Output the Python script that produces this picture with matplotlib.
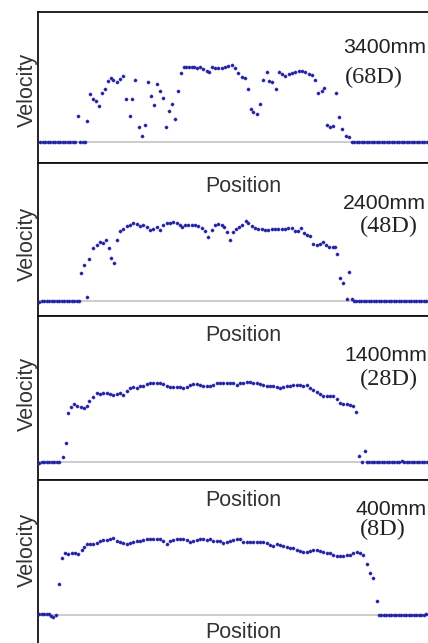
import numpy as np
import matplotlib.pyplot as plt

# velocity profiles
# position = px along the section, velocity = height above the zero line (arbitrary units)
distances = ['3400mm', '2400mm', '1400mm', '400mm']
diameters = ['(68D)', '(48D)', '(28D)', '(8D)']

pos_68d = [40, 42.5, 45, 47.5, 50, 52.5, 55, 57.5, 60, 62.5, 65, 67.5, 70, 72.5, 75,
           78, 80, 82.5, 85, 87, 90, 92.7, 95.7, 99, 102.3, 105.3, 108, 110.7, 113.3,
           116.7, 120, 123.3, 126.3, 129.7, 132.3, 135.3, 138.7, 141.7, 144.7, 147.7,
           150.7, 153.7, 156.7, 159.7, 162.7, 166.3, 168.7, 172, 175, 178, 181,
           183.7, 186.3, 189, 191.7, 194.3, 197, 200, 203.3, 206.7, 209, 211.7, 215,
           218.3, 221.7, 225, 228.3, 231.7, 235, 238.3, 241.7, 244.7, 248.3, 250.7,
           253.3, 256.7, 260, 263.3, 266.7, 269.3, 272, 275.7, 278.7, 282, 285.3,
           288.7, 292, 295.3, 298.7, 302, 305.3, 308.7, 311.7, 315, 318.3, 321.7,
           324.3, 327, 330, 333.3, 336.3, 339.3, 342.3, 345.7, 349,
           352, 354.5, 357, 359.5, 362, 364.5, 367, 369.5, 372, 374.5, 377, 379.5,
           382, 384.5, 387, 389.5, 392, 394.5, 397, 399.5, 402, 404.5, 407, 409.5,
           412, 414.5, 417, 419.5, 422, 424.5, 427]
vel_68d = [0, 0, 0, 0, 0, 0, 0, 0, 0, 0, 0, 0, 0, 0, 0,
           25.7, 0, 0, 0, 20.7, 48.3, 43.3, 41.3, 36, 49.3, 53.3, 61.3, 63.7, 61.7,
           59.7, 63, 66.3, 43.3, 25.7, 43.3, 61.7, 14.7, 6.3, 16.7, 60.3,
           46, 37, 58.3, 51.3, 44, 14.7, 31, 38, 22.7, 51.3, 68.7,
           75.3, 75.3, 75.3, 75.3, 75, 74.3, 74.7, 73, 71, 70.5, 75.3, 73.7,
           73.7, 74.3, 74.7, 76, 76.7, 74.3, 68.7, 65.3, 63.7, 53.3, 32.7,
           30.3, 27.7, 38, 61.7, 69.7, 61, 59.7, 53.3, 70, 68, 66.3,
           68, 68.7, 69.7, 70.7, 71.3, 70, 68.3, 66.7, 62, 49, 51,
           53.7, 16.7, 15.3, 16.3, 49, 24.7, 12.7, 6, 5.3,
           0, 0, 0, 0, 0, 0, 0, 0, 0, 0, 0, 0,
           0, 0, 0, 0, 0, 0, 0, 0, 0, 0, 0, 0,
           0, 0, 0, 0, 0, 0, 0]

pos_48d = [39, 41.5, 44, 46.5, 49, 51.5, 54, 56.5, 59, 61.5, 64, 66.5, 69, 71.5, 74, 76.5, 79,
           80.7, 84, 86.7, 89.3, 93.3, 96.7, 100, 103.3, 106, 108.7, 111.3, 114.3, 117.3,
           120, 123.3, 126.7, 130, 133.3, 136.7, 140, 143.3, 146.7, 150, 153.3, 156.7,
           160, 163.3, 166.7, 170, 173.3, 176.7, 180, 182.3, 185, 188.3, 191.7, 195,
           198.3, 201.7, 205, 208.3, 211.7, 215, 218.3, 221.7, 224, 226.7, 230, 232.7,
           235.7, 239, 242.3, 245.7, 248.3, 251.7, 255, 258.3, 261.7, 265, 268.3, 271.7,
           275, 278.3, 281.7, 285, 288.3, 291.7, 295, 298.3, 301, 304, 306.7, 310,
           313.3, 316.7, 320, 322.7, 326, 329.3, 332.7, 334.7, 337.3, 340, 343.3,
           346.7, 349.3, 352,
           354, 356.5, 359, 361.5, 364, 366.5, 369, 371.5, 374, 376.5, 379, 381.5,
           384, 386.5, 389, 391.5, 394, 396.5, 399, 401.5, 404, 406.5, 409, 411.5,
           414, 416.5, 419, 421.5, 424, 426.5]
vel_48d = [-1, 0, 0, 0, 0, 0, 0, 0, 0, 0, 0, 0, 0, 0, 0, 0, 0,
           28, 36, 3.7, 41.3, 53, 55.3, 59, 58, 60.3, 52.3, 42.7, 38, 60.7,
           69.3, 71.3, 74.3, 76, 77.3, 76.3, 75, 76, 73.7, 70.3, 71.3, 74,
           70.7, 76, 77.3, 78, 79, 77.3, 75.7, 74, 76, 76, 76, 76,
           74.7, 73, 69.7, 64, 70.7, 76, 76.3, 76, 74, 69, 60.7, 68.7,
           71.3, 74, 76, 79.7, 77.3, 74.7, 72.7, 71.3, 71.3, 71, 71, 71.7,
           71.7, 72, 71.3, 72, 72.7, 72.7, 70, 69.3, 72.3, 68, 65.3, 64.3,
           56.3, 56, 56.7, 58.3, 55.7, 54, 53.3, 53.3, 47, 22.7, 17.3,
           2, 28.7, 1.3,
           0, 0, 0, 0, 0, 0, 0, 0, 0, 0, 0, 0,
           0, 0, 0, 0, 0, 0, 0, 0, 0, 0, 0, 0,
           0, 0, 0, 0, 0, 0]

pos_28d = [39, 41.5, 44, 46.5, 49, 51.5, 54, 56.5, 59,
           62.7, 65.7, 68.3, 71, 74, 77.3, 80.7, 84, 86.7, 89.3, 93.3, 96.7, 100,
           103.3, 106.7, 110, 113.3, 116.7, 120, 123.3, 126.7, 130, 133.3, 136.7, 140,
           143.3, 146.7, 150, 153.3, 156.7, 160, 163.3, 166.7, 170, 173.3, 176.7, 180,
           183.3, 186.7, 190, 193.3, 196.7, 200, 203.3, 206.7, 210, 213.3, 216.7, 220,
           223.3, 226.7, 230, 233.3, 236.7, 240, 243.3, 246.7, 250, 253.3, 256.7, 260,
           263.3, 266.7, 270, 273.3, 276.7, 280, 283.3, 286.7, 290, 293.3, 296.7, 300,
           303.3, 306.7, 310, 313.3, 316.7, 320, 323.3, 326.7, 330, 333.3, 336.7, 340,
           343.3, 346.7, 350, 352.7, 355.7, 358.7, 361.7, 364.7,
           367, 369.5, 372, 374.5, 377, 379.5, 382, 384.5, 387, 389.5, 392, 394.5,
           397, 399.5, 402, 404.5, 407, 409.5, 412, 414.5, 417, 419.5, 422, 424.5, 427]
vel_28d = [-1.3, -0.3, 0, 0, 0, 0, 0, 0, 0,
           5.3, 18.7, 49.3, 55.3, 57.7, 56.3, 55.3, 53.7, 56, 61, 65.3, 68.7, 68.3,
           68.7, 68.7, 68.3, 67, 68.3, 69.3, 67, 71, 73.7, 75, 74.3, 75.7,
           76.3, 78, 79, 79.3, 79.3, 79, 78, 76.3, 75.3, 75.3, 75.3, 75,
           74.3, 75.3, 77, 78, 78, 77, 76, 75.7, 76, 77, 78.7, 79,
           79, 79, 78.7, 79, 77.3, 78.7, 79.3, 80.3, 79.7, 79, 78.7, 78,
           76.7, 76, 76.3, 75.7, 74.7, 74, 74.7, 75.7, 76.3, 77, 77.3, 76.7,
           76.3, 77.3, 73.7, 71.7, 69.7, 68.3, 66, 66, 66, 65.7, 63.3, 59.3,
           57.7, 57.7, 57.3, 56.3, 50.3, 5.7, -0.3, 11,
           0, 0, 0, 0, 0, 0, 0, 0, 0, 0, 0, 0,
           0, 0, 0.7, 0, 0, 0, 0, 0, 0, 0, 0, 0, 0]

pos_8d = [39, 41.5, 44, 46.5, 49, 51, 53.3, 56,
          59.3, 62.3, 65.3, 68.3, 71.7, 75, 78.3, 81.7, 84, 86.7, 90, 93.3, 96.7, 100,
          103.3, 106.7, 110, 113.3, 116.7, 120, 123.3, 126.7, 130, 133.3, 136.7, 140,
          143.3, 146.7, 150, 153.3, 156.7, 160, 163.3, 166.7, 170, 173.3, 176.7, 180,
          183.3, 186.7, 190, 193.3, 196.7, 200, 203.3, 206.7, 210, 213.3, 216.7, 220,
          223.3, 226.7, 230, 233.3, 236.7, 240, 243.3, 246.7, 250, 253.3, 256.7, 260,
          263.3, 266.7, 270, 273.3, 276.7, 280, 283.3, 286.7, 290, 293.3, 296.7, 300,
          303.3, 306.7, 310, 313.3, 316.7, 320, 323.3, 326.7, 330, 333.3, 336.7, 340,
          343.3, 346.7, 350, 353.3, 356.7, 360, 363.3, 367.3, 370, 373.3, 376.7,
          379, 381.5, 384, 386.5, 389, 391.5, 394, 396.5, 399, 401.5, 404, 406.5,
          409, 411.5, 414, 416.5, 419, 421.5, 424, 426.5]
vel_8d = [0.7, 0.7, 0.7, 0.7, 0.3, -1.5, -2.7, -0.3,
          31, 56.3, 61.7, 60.7, 62, 61.3, 60.7, 64.7, 67.3, 71, 71, 71, 71.7, 73.3,
          74.3, 74.7, 75.3, 76.3, 74, 72.3, 71.3, 70.3, 72, 73, 73.7, 74,
          74.7, 75.3, 76, 76, 75.7, 75.3, 73.7, 71, 74, 74.7, 75.3, 76,
          75.7, 74.7, 72.7, 74, 74.7, 75.3, 76, 74.7, 75.3, 73.7, 74, 73.3,
          72, 72.7, 74, 74.7, 75.3, 76, 73, 72.3, 72.7, 72.7, 72.7, 72.7,
          73, 72, 69.7, 69, 70.3, 69.7, 68.3, 67.7, 66.3, 66.7, 65, 64,
          63, 63, 64, 64.3, 64.7, 63.7, 62.3, 62, 61.3, 59.3, 58.3, 58.3,
          58.3, 59.7, 60, 61.7, 62.3, 61.3, 59.7, 50.7, 41.3, 36.7, 14,
          0, 0, 0, 0, 0, 0, 0, 0, 0, 0, 0, 0,
          0, 0, 0, 0, 0, 0, -0.5, 0.5]

W, H = 428, 643


def px_box(left, top, right, bottom):
    # pixel box -> figure fraction [l, b, w, h]
    return [left / W, 1 - bottom / H, (right - left) / W, (bottom - top) / H]


def main():
    plt.rcParams['font.family'] = 'Liberation Sans'
    fig = plt.figure(figsize=(W / 100, H / 100), dpi=100)

    positions = [pos_68d, pos_48d, pos_28d, pos_8d]
    velocities = [vel_68d, vel_48d, vel_28d, vel_8d]

    # panel frames in px: (top, bottom, zero line)
    frames = [(12, 163, 142), (163, 316, 300.7), (316, 480, 462), (480, 646, 614.7)]
    dist_base = [53.3, 209.3, 361, 515]
    dist_x = [343, 343, 344, 356]
    diam_base = [82.7, 231.7, 385, 535]
    diam_x = [345, 360, 360, 360]
    vel_label_y = [90, 243.5, 394, 550]
    pos_label_base = [192.3, 341, 505.7, 638]

    for i in range(4):
        top, bottom, zero = frames[i]
        ax = fig.add_axes(px_box(38, top, 445, bottom))
        ax.set_xlim(38, 445)
        ax.set_ylim(zero - bottom, zero - top)
        ax.axhline(0, color='#c4c4c4', lw=1.2, zorder=1)
        ax.plot(positions[i], velocities[i], ls='none', marker='o', ms=2.3,
                mfc='#2020a0', mec='#3c3cb8', mew=0.3, zorder=3)
        ax.set_xticks([])
        ax.set_yticks([])
        for s in ax.spines.values():
            s.set_linewidth(1.3)
            s.set_color('#111111')

        fig.text(dist_x[i] / W, 1 - dist_base[i] / H, distances[i], fontsize=15.3,
                 ha='left', va='baseline', color='#222222')
        fig.text(diam_x[i] / W, 1 - diam_base[i] / H, diameters[i], fontsize=17.5,
                 family='Liberation Serif', ha='left', va='baseline', color='#222222')
        fig.text(27.5 / W, 1 - vel_label_y[i] / H, 'Velocity', fontsize=15.5,
                 rotation=90, ha='center', va='center', color='#333333')

    # "Position" labels sit at the top of the next panel
    for yb in pos_label_base:
        fig.text(243.5 / W, 1 - yb / H, 'Position', fontsize=15.5,
                 ha='center', va='baseline', color='#333333')

    fig.savefig('out.png', dpi=100)


main()
